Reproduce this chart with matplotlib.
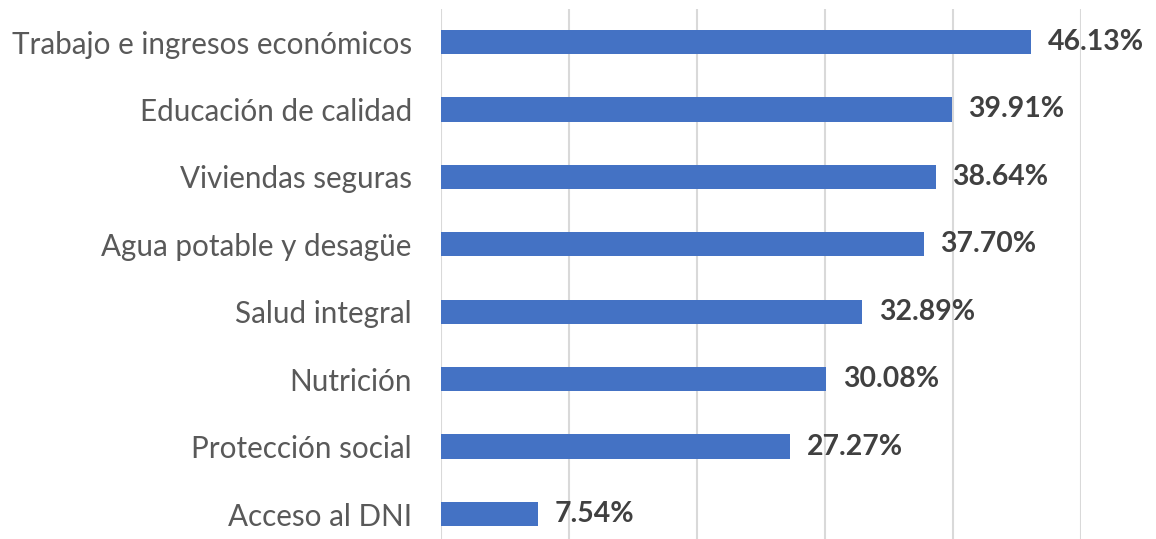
import matplotlib
matplotlib.use("Agg")
import matplotlib.pyplot as plt

# Data
categories = ["Trabajo e ingresos económicos", "Educación de calidad", "Viviendas seguras",
              "Agua potable y desagüe", "Salud integral", "Nutrición",
              "Protección social", "Acceso al DNI"]
values = [46.13, 39.91, 38.64, 37.70, 32.89, 30.08, 27.27, 7.54]

plt.rcParams['font.family'] = ['Lato', 'DejaVu Sans']

fig = plt.figure(figsize=(11.56, 5.39), dpi=100)
ax = fig.add_axes([441 / 1156, 0, (1081 - 441) / 1156, 1 - 9 / 539])

pos = list(range(len(categories)))
ax.barh(pos, values, height=0.36, color="#4472C4", zorder=3)

for y, v in zip(pos, values):
    ax.text(v + 1.3, y, "{:.2f}%".format(v), va="center", ha="left",
            fontsize=20.4, fontweight="bold", color="#404040", zorder=4)

ax.set_xlim(0, 50)
ax.set_ylim(7.37, -0.49)
ax.set_xticks([0, 10, 20, 30, 40, 50])
ax.set_xticklabels([])
ax.tick_params(axis="x", length=0)
ax.grid(axis="x", color="#D9D9D9", linewidth=1.5, zorder=0)
ax.set_yticks(pos)
ax.set_yticklabels(categories, fontsize=21.3, color="#595959")
ax.tick_params(axis="y", length=0, pad=21)
for s in ["top", "right", "bottom", "left"]:
    ax.spines[s].set_visible(False)

fig.savefig("out.png", dpi=100)
